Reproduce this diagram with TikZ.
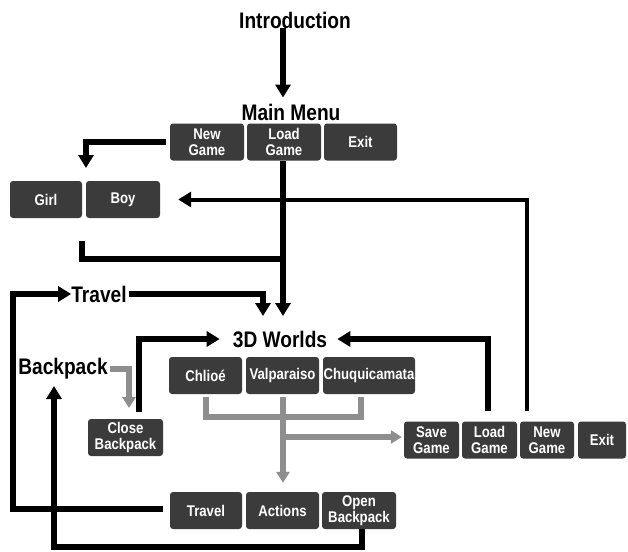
\documentclass[tikz,border=0pt]{standalone}
\usepackage{fontspec}
\setmainfont{Liberation Sans}
\newfontfamily\narrowfont[FakeStretch=0.85]{Liberation Sans}
\usetikzlibrary{arrows.meta}
\definecolor{btngray}{HTML}{3B3B3B}
\definecolor{flowgray}{HTML}{8E8E8E}
\tikzset{
  btn/.style={fill=btngray,rounded corners=3pt,text=white,inner sep=0pt,align=center,
    minimum height=37pt,font=\narrowfont\bfseries\fontsize{15.5}{15.5}\selectfont},
  head/.style={inner sep=0pt,font=\narrowfont\bfseries\fontsize{22.5}{24}\selectfont},
  flow/.style={line width=6pt,-{Triangle[length=13pt,width=15pt]}},
  bar/.style={line width=6pt},
  gflow/.style={flowgray,line width=6pt,-{Triangle[length=11pt,width=13pt]}},
  gbar/.style={flowgray,line width=6pt}
}
\begin{document}
\begin{tikzpicture}[x=1pt,y=-1pt]
\useasboundingbox (0,0) rectangle (628,551);
\node[head] (intro) at (295,20) {Introduction};
\node[head] (mainmenu) at (291,112) {Main Menu};
\node[head] (travelLbl) at (99,294) {Travel};
\node[head] (worlds) at (280,339) {3D Worlds};
\node[head] (backpack) at (63,369) {Backpack};
\node[btn,minimum width=74pt] (mmNew) at (207,142) {New\\Game};
\node[btn,minimum width=74pt] (mmLoad) at (284,142) {Load\\Game};
\node[btn,minimum width=73pt] (mmExit) at (360.5,142) {Exit};
\node[btn,minimum width=72pt] (girl) at (46,199.5) {Girl};
\node[btn,minimum width=74pt] (boy) at (123,199.5) {Boy};
\node[btn,minimum width=73pt] (chloe) at (205.5,375.5) {Chlioé};
\node[btn,minimum width=73pt] (valp) at (282.5,375.5) {Valparaiso};
\node[btn,minimum width=92pt] (chuq) at (369,375.5) {Chuquicamata};
\node[btn,minimum width=75pt] (closeBtn) at (125.5,437.5) {Close\\Backpack};
\node[btn,minimum width=55pt] (save) at (431.5,440) {Save\\Game};
\node[btn,minimum width=55pt] (gmLoad) at (489.5,440) {Load\\Game};
\node[btn,minimum width=54pt] (gmNew) at (547,440) {New\\Game};
\node[btn,minimum width=48pt] (gmExit) at (602,440) {Exit};
\node[btn,minimum width=72pt] (travelBtn) at (206,510.5) {Travel};
\node[btn,minimum width=73pt] (actions) at (282.5,510.5) {Actions};
\node[btn,minimum width=74pt] (openBtn) at (359,510.5) {Open\\Backpack};
\coordinate (gbTip) at (86,168);
\coordinate (gbOut) at (82,241);
\coordinate (gbJoin) at (283,259);
\coordinate (worldsIn) at (283,316);
\coordinate (travelIn) at (263,316);
\coordinate (loopL) at (13,294);
\coordinate (bpTip) at (54,386);
\coordinate (bottomY) at (0,547);
\coordinate (bpDown) at (129,408);
\coordinate (brL) at (206,417);
\coordinate (brR) at (361,417);
\coordinate (brS) at (283,437);
\draw[flow] (intro.south -| worldsIn) -- ([yshift=6pt]mainmenu.north -| worldsIn);
\draw[flow] ([xshift=-4pt]mmNew.west) -| (gbTip);
\draw[flow] (mmLoad.south -| worldsIn) -- (worldsIn);
\draw[bar] (gbOut) |- (gbJoin);
\draw[flow] ([xshift=2pt]travelLbl.east) -| (travelIn);
\draw[flow] ([xshift=-7pt,yshift=2pt]travelBtn.west) -| (loopL) -- (travelLbl.west);
\draw[flow] ([xshift=3pt]openBtn.south) |- (bottomY -| bpTip) -- (bpTip);
\draw[flow,shorten >=13pt] ([xshift=13.5pt,yshift=7pt]closeBtn.north) |- (worlds.west);
\draw[flow,shorten >=10pt] ([xshift=-1.5pt,yshift=10pt]gmLoad.north) |- (worlds.east);
\draw[flow,line width=4pt,shorten >=18pt] ([xshift=-20pt,yshift=10pt]gmNew.north) |- (boy.east);
\draw[gflow] ([xshift=2pt]backpack.east) -| (bpDown);
\draw[gbar] ([yshift=-3pt]chloe.south -| brL) -- (brL) -- (brR) -- ([yshift=-3pt]chuq.south -| brR);
\draw[gflow,shorten >=9pt] ([yshift=-3pt]valp.south -| brS) -- (actions.north -| brS);
\draw[gflow,shorten >=2pt] (brS) -- (save.west |- brS);
\end{tikzpicture}
\end{document}
